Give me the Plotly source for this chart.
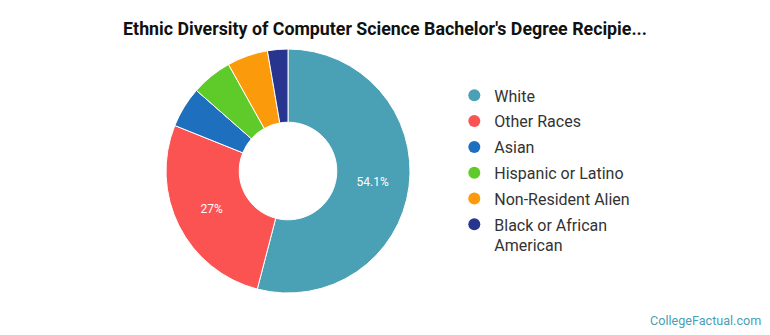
import plotly.graph_objects as go

labels = ["White", "Other Races", "Asian", "Hispanic or Latino", "Non-Resident Alien", "Black or African American"]
legend_names = ["White", "Other Races", "Asian", "Hispanic or Latino", "Non-Resident Alien", "Black or African<br>American"]
values = [20, 10, 2, 2, 2, 1]
shown_text = ["54.1%", "27%", "", "", "", ""]
colors = ["#4aa0b5", "#fb5252", "#1e6fbe", "#5ecb2a", "#fb9b0c", "#28358f"]

fig = go.Figure()
fig.add_trace(go.Pie(
    labels=labels, values=values, text=shown_text, textinfo="text",
    textposition="inside", insidetextorientation="horizontal",
    textfont=dict(family="Roboto", size=12, color="white"),
    marker=dict(colors=colors, line=dict(color="white", width=1)),
    hole=0.4, sort=False, direction="clockwise", rotation=0,
    showlegend=False, hoverinfo="label+percent",
    domain=dict(x=[0.2156, 0.5325], y=[0.125, 0.854]),
))
for i, (name, c) in enumerate(zip(legend_names, colors)):
    fig.add_trace(go.Scatter(x=[None], y=[None], mode="markers", name=name,
                             legendgroup="g%d" % i,
                             marker=dict(symbol="circle", size=15, color=c),
                             showlegend=True))

fig.update_layout(
    width=770, height=335, margin=dict(l=0, r=0, t=0, b=0),
    paper_bgcolor="white", plot_bgcolor="white",
    title=dict(text="<b>Ethnic Diversity of Computer Science Bachelor's Degree Recipie...</b>",
               x=0.5, xanchor="center", y=0.915, yanchor="middle",
               font=dict(family="Roboto", size=17.8, color="#111111")),
    xaxis=dict(visible=False), yaxis=dict(visible=False),
    legend=dict(x=0.59, xanchor="left", y=0.766, yanchor="top", valign="top",
                font=dict(family="Roboto", size=16, color="#333333"),
                itemsizing="constant", tracegroupgap=2, bgcolor="rgba(0,0,0,0)"),
    annotations=[dict(text="CollegeFactual.com", x=0.991, y=0.015, xref="paper", yref="paper",
                      xanchor="right", yanchor="bottom", showarrow=False,
                      font=dict(family="Roboto", size=12.6, color="#4aa0b5"))],
)
fig.write_html("out.html")
